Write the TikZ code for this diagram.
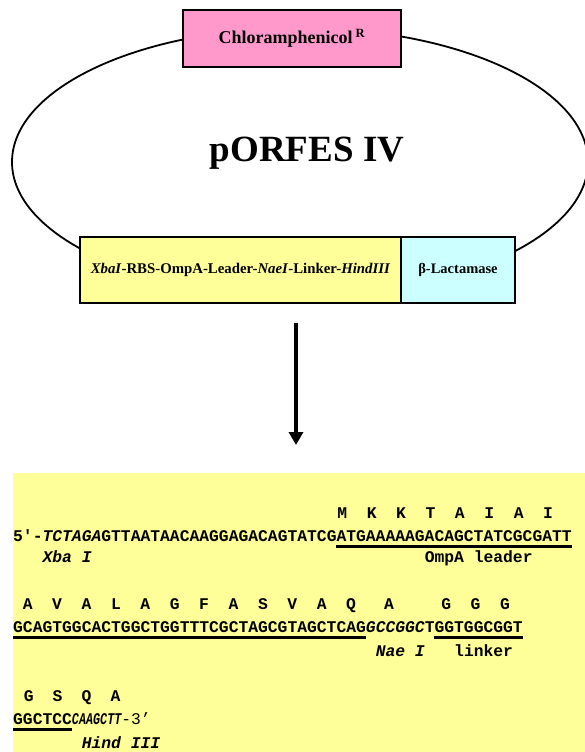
\documentclass[tikz,border=0pt]{standalone}
\usepackage{fontspec}
\setmainfont{Liberation Serif}
\setmonofont{Liberation Mono}
\usetikzlibrary{arrows.meta}
\definecolor{pinkbox}{HTML}{FF99CC}
\definecolor{yelbox}{HTML}{FFFF99}
\definecolor{cyanbox}{HTML}{CCFFFF}
\begin{document}
\begin{tikzpicture}[x=1pt,y=-1pt,
  box/.style={draw, line width=2pt, inner sep=0pt, align=center},
  seq/.style={anchor=base west, inner sep=0pt, font=\ttfamily\bfseries\fontsize{16.33}{18}\selectfont},
  lab/.style={anchor=base west, inner sep=0pt, font=\ttfamily\bfseries\fontsize{16.33}{18}\selectfont},
  aa/.style={anchor=base, inner sep=0pt, font=\ttfamily\bfseries\fontsize{16.33}{18}\selectfont},
  uline/.style={line width=2.2pt}]
\useasboundingbox (0,0) rectangle (585,752);
% plasmid
\draw[line width=1.8pt] (300,162) ellipse [x radius=288pt, y radius=134pt];
\node[box, fill=pinkbox, minimum width=218pt, minimum height=57pt,
  font=\bfseries\fontsize{18}{20}\selectfont] (cam) at (292,38.5) {Chloramphenicol\,\textsuperscript{R}};
\node[font=\bfseries\fontsize{37}{40}\selectfont, inner sep=0pt] (title) at (307,153) {pORFES IV};
\node[box, fill=yelbox, minimum width=321pt, minimum height=66pt,
  font=\bfseries\fontsize{14.8}{16}\selectfont] (cass) at (240.5,270)
  {\textit{XbaI}-RBS-OmpA-Leader-\textit{NaeI}-Linker-\textit{HindIII}};
\node[box, fill=cyanbox, minimum width=114pt, minimum height=66pt,
  font=\bfseries\fontsize{14.5}{16}\selectfont] (bla) at (458,270) {β-Lactamase};
% arrow
\coordinate (a1) at (296,323);
\coordinate (a2) at (296,445);
\draw[line width=3.5pt, -{Triangle[width=14pt,length=13pt]}] (a1) -- (a2);
% sequence panel
\fill[yelbox] (13,473) rectangle (585,752);
% row 1
\foreach \l [count=\i from 0] in {M,K,K,T,A,I,A,I}
  \node[aa] (r1aa\i) at ({13+(33.6+3*\i)*9.8},518) {\l};
\node[seq] (s1) at (13,541) {5'-\textit{TCTAGA}GTTAATAACAAGGAGACAGTATCGATGAAAAAGACAGCTATCGCGATT};
\draw[uline] ({13+33*9.8},546.5) -- ({13+57*9.8},546.5);
\node[lab] (xba) at ({13+3*9.8},562) {\textit{Xba I}};
\node[lab] (omp) at ({13+42*9.8},562) {OmpA leader};
% row 2
\foreach \l [count=\i from 0] in {A,V,A,L,A,G,F,A,S,V,A,Q}
  \node[aa] (r2aa\i) at ({13+(1.5+3*\i)*9.8},609) {\l};
\node[aa] (r2aa12) at (389,609) {A};
\foreach \l [count=\i from 0] in {G,G,G}
  \node[aa] (r2g\i) at ({13+(44.2+3*\i)*9.8},609) {\l};
\node[seq] (s2) at (13,632) {GCAGTGGCACTGGCTGGTTTCGCTAGCGTAGCTCAG\textit{GCCGGC}TGGTGGCGGT};
\draw[uline] (13,637.5) -- ({13+36*9.8},637.5);
\draw[uline] ({13+43*9.8},637.5) -- ({13+52*9.8},637.5);
\node[lab] (nae) at ({13+37*9.8},656) {\textit{Nae I}};
\node[lab] (lnk) at ({13+45*9.8},656) {linker};
% row 3
\foreach \l [count=\i from 0] in {G,S,Q,A}
  \node[aa] (r3aa\i) at ({13+(1.6+2.95*\i)*9.8},701) {\l};
\node[seq] (s3) at (13,724) {GGCTCC\scalebox{0.72}[1]{\itshape CAAGCTT}{\mdseries-3’}};
\draw[uline] (13,729.5) -- ({13+6*9.8},729.5);
\node[lab] (hind) at ({13+7*9.8},748) {\textit{Hind III}};
\end{tikzpicture}
\end{document}
